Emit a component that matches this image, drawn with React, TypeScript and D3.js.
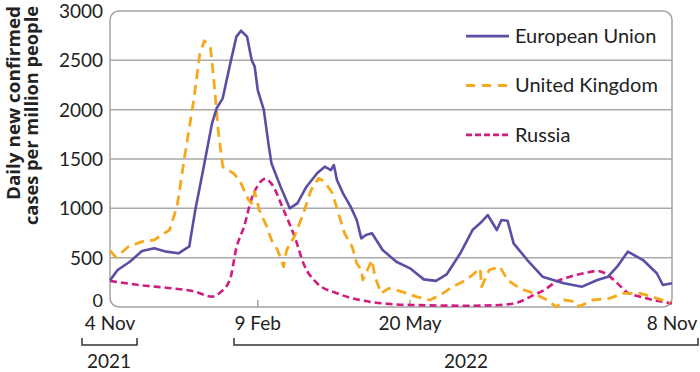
import React from "react";
import * as d3 from "d3";

const START = Date.UTC(2021, 10, 4);
const END = Date.UTC(2022, 10, 8);

const euDays = [0, 5, 13, 21, 29, 37, 45, 50, 52, 56, 62, 67, 70, 74, 79, 83, 86, 90, 93, 95, 97, 101, 104, 106, 112, 118, 123, 129, 136, 141, 145, 147, 149, 153, 158, 162, 165, 168, 172, 179, 188, 197, 206, 214, 221, 230, 238, 243, 248, 254, 257, 261, 265, 274, 284, 298, 310, 320, 327, 333, 340, 350, 359, 363, 369];
const euValues = [270, 375, 459, 567, 595, 561, 544, 595, 611, 983, 1456, 1862, 2014, 2115, 2470, 2740, 2800, 2740, 2503, 2436, 2199, 1997, 1659, 1456, 1219, 1000, 1051, 1219, 1355, 1422, 1388, 1439, 1287, 1152, 1017, 882, 696, 730, 747, 578, 459, 392, 280, 265, 330, 544, 780, 848, 932, 780, 882, 875, 645, 476, 307, 240, 206, 274, 307, 409, 561, 476, 342, 223, 240];

const ukDays = [0, 4, 12, 21, 29, 39, 44, 49, 55, 59, 62, 66, 68, 71, 74, 81, 85, 91, 93, 95, 98, 103, 106, 110, 114, 116, 121, 127, 132, 137, 141, 146, 150, 154, 159, 162, 165, 166, 170, 172, 174, 178, 183, 188, 195, 201, 210, 217, 225, 234, 243, 244, 249, 256, 261, 269, 278, 287, 293, 298, 306, 308, 317, 328, 337, 348, 359, 368];
const ukValues = [570, 503, 611, 662, 679, 780, 1017, 1523, 2098, 2571, 2699, 2622, 2334, 1794, 1422, 1355, 1287, 1084, 1051, 1169, 983, 814, 679, 578, 409, 578, 713, 949, 1186, 1304, 1270, 1152, 949, 747, 611, 443, 375, 274, 409, 476, 307, 139, 189, 172, 139, 105, 71, 122, 206, 274, 392, 206, 375, 409, 274, 189, 139, 71, 0, 71, 54, 5, 71, 88, 139, 139, 88, 45];

const ruDays = [0, 19, 41, 56, 67, 73, 79, 83, 88, 93, 97, 102, 106, 114, 122, 127, 136, 149, 164, 184, 201, 234, 256, 269, 276, 285, 293, 302, 311, 320, 325, 332, 339, 348, 359, 369];
const ruValues = [265, 223, 189, 155, 105, 155, 291, 600, 814, 1100, 1230, 1300, 1250, 983, 679, 443, 240, 139, 71, 30, 20, 13, 20, 54, 105, 172, 257, 307, 342, 365, 342, 257, 155, 105, 64, 37];

const yTicks = [0, 500, 1000, 1500, 2000, 2500, 3000];
const xTickDates = ["2021-11-04", "2022-02-09", "2022-05-20", "2022-11-08"];
const xTickLabels = ["4 Nov", "9 Feb", "20 May", "8 Nov"];
const seriesNames = ["European Union", "United Kingdom", "Russia"];
const yearLabels = ["2021", "2022"];

const COLORS = ["#5a4fa5", "#f6a91f", "#d01c80"];
const DASHES = ["none", "10,6", "7,4"];
const WIDTHS = [2.6, 2.8, 2.6];

const FONT = "Lato, 'Open Sans', sans-serif";

const L = 110, R = 672, T = 11, B = 307;

export default function App() {
  const x = d3.scaleUtc().domain([new Date(START), new Date(END)]).range([L, R]);
  const y = d3.scaleLinear().domain([0, 3000]).range([B, T]);
  const toDate = (d: number) => new Date(START + d * 864e5);

  const mk = (days: number[], vals: number[]) => days.map((d, i) => ({ date: toDate(d), v: vals[i] }));
  const series = [mk(euDays, euValues), mk(ukDays, ukValues), mk(ruDays, ruValues)];
  const curves = [d3.curveLinear, d3.curveLinear, d3.curveMonotoneX];

  const lines = series.map((s, i) =>
    d3.line<{ date: Date; v: number }>().x((p) => x(p.date)).y((p) => y(p.v)).curve(curves[i])(s) as string
  );

  const tickDates = xTickDates.map((s) => new Date(s + "T00:00:00Z"));

  const legendY = [2750, 2250, 1750];

  return (
    <svg width={700} height={372} style={{ position: "absolute", left: 0, top: 0, background: "#fff" }} fontFamily={FONT}>
      {/* gridlines */}
      {yTicks.filter((t) => t > 0 && t < 3000).map((t) => (
        <line key={t} x1={L} x2={R} y1={y(t)} y2={y(t)} stroke="#a9a9a9" strokeWidth={1.5} />
      ))}
      {/* frame */}
      <rect x={L} y={T} width={R - L} height={B - T} rx={9} ry={9} fill="none" stroke="#a3a3a3" strokeWidth={1.5} />
      {/* inner x ticks */}
      {tickDates.slice(1, 3).map((d, i) => (
        <line key={i} x1={x(d)} x2={x(d)} y1={B} y2={B - 7} stroke="#a3a3a3" strokeWidth={1.5} />
      ))}
      {/* y tick labels */}
      {yTicks.map((t) => (
        <text key={t} x={103} y={y(t) - (t === 0 ? 6 : 0)} dy="0.36em" textAnchor="end" fontSize={t === 0 ? 18 : 19} fill="#222">{t}</text>
      ))}
      {/* x tick labels */}
      {tickDates.map((d, i) => (
        <text key={i} x={x(d)} y={330} textAnchor="middle" fontSize={19} fill="#222">{xTickLabels[i]}</text>
      ))}
      {/* year brackets */}
      <path d={`M${82},${338}V${345}H${137}V${338}`} fill="none" stroke="#333" strokeWidth={1.5} />
      <path d={`M${234},${338}V${345}H${698}V${338}`} fill="none" stroke="#333" strokeWidth={1.5} />
      <text x={109} y={368} textAnchor="middle" fontSize={19} fill="#222">{yearLabels[0]}</text>
      <text x={466} y={368} textAnchor="middle" fontSize={19} fill="#222">{yearLabels[1]}</text>
      {/* y title */}
      <text transform="translate(20,6) rotate(-90)" textAnchor="end" fontSize={18} fontWeight={700} fill="#222"
        fontFamily="'Open Sans', sans-serif" textLength={194} lengthAdjust="spacingAndGlyphs">Daily new confirmed</text>
      <text transform="translate(38,6) rotate(-90)" textAnchor="end" fontSize={18} fontWeight={700} fill="#222"
        fontFamily="'Open Sans', sans-serif" textLength={219} lengthAdjust="spacingAndGlyphs">cases per million people</text>
      {/* series */}
      {[2, 1, 0].map((i) => (
        <path key={i} d={lines[i]} fill="none" stroke={COLORS[i]} strokeWidth={WIDTHS[i]} strokeDasharray={DASHES[i]} strokeLinejoin="round" />
      ))}
      {/* legend */}
      {seriesNames.map((n, i) => (
        <g key={n}>
          <line x1={466} x2={509} y1={y(legendY[i]) + 0.5} y2={y(legendY[i]) + 0.5} stroke={COLORS[i]} strokeWidth={WIDTHS[i]} strokeDasharray={DASHES[i] === "none" ? undefined : i === 1 ? "9,7" : "6,3"} />
          <text x={515} y={y(legendY[i])} dy="0.36em" fontSize={20} fill="#222">{n}</text>
        </g>
      ))}
    </svg>
  );
}
